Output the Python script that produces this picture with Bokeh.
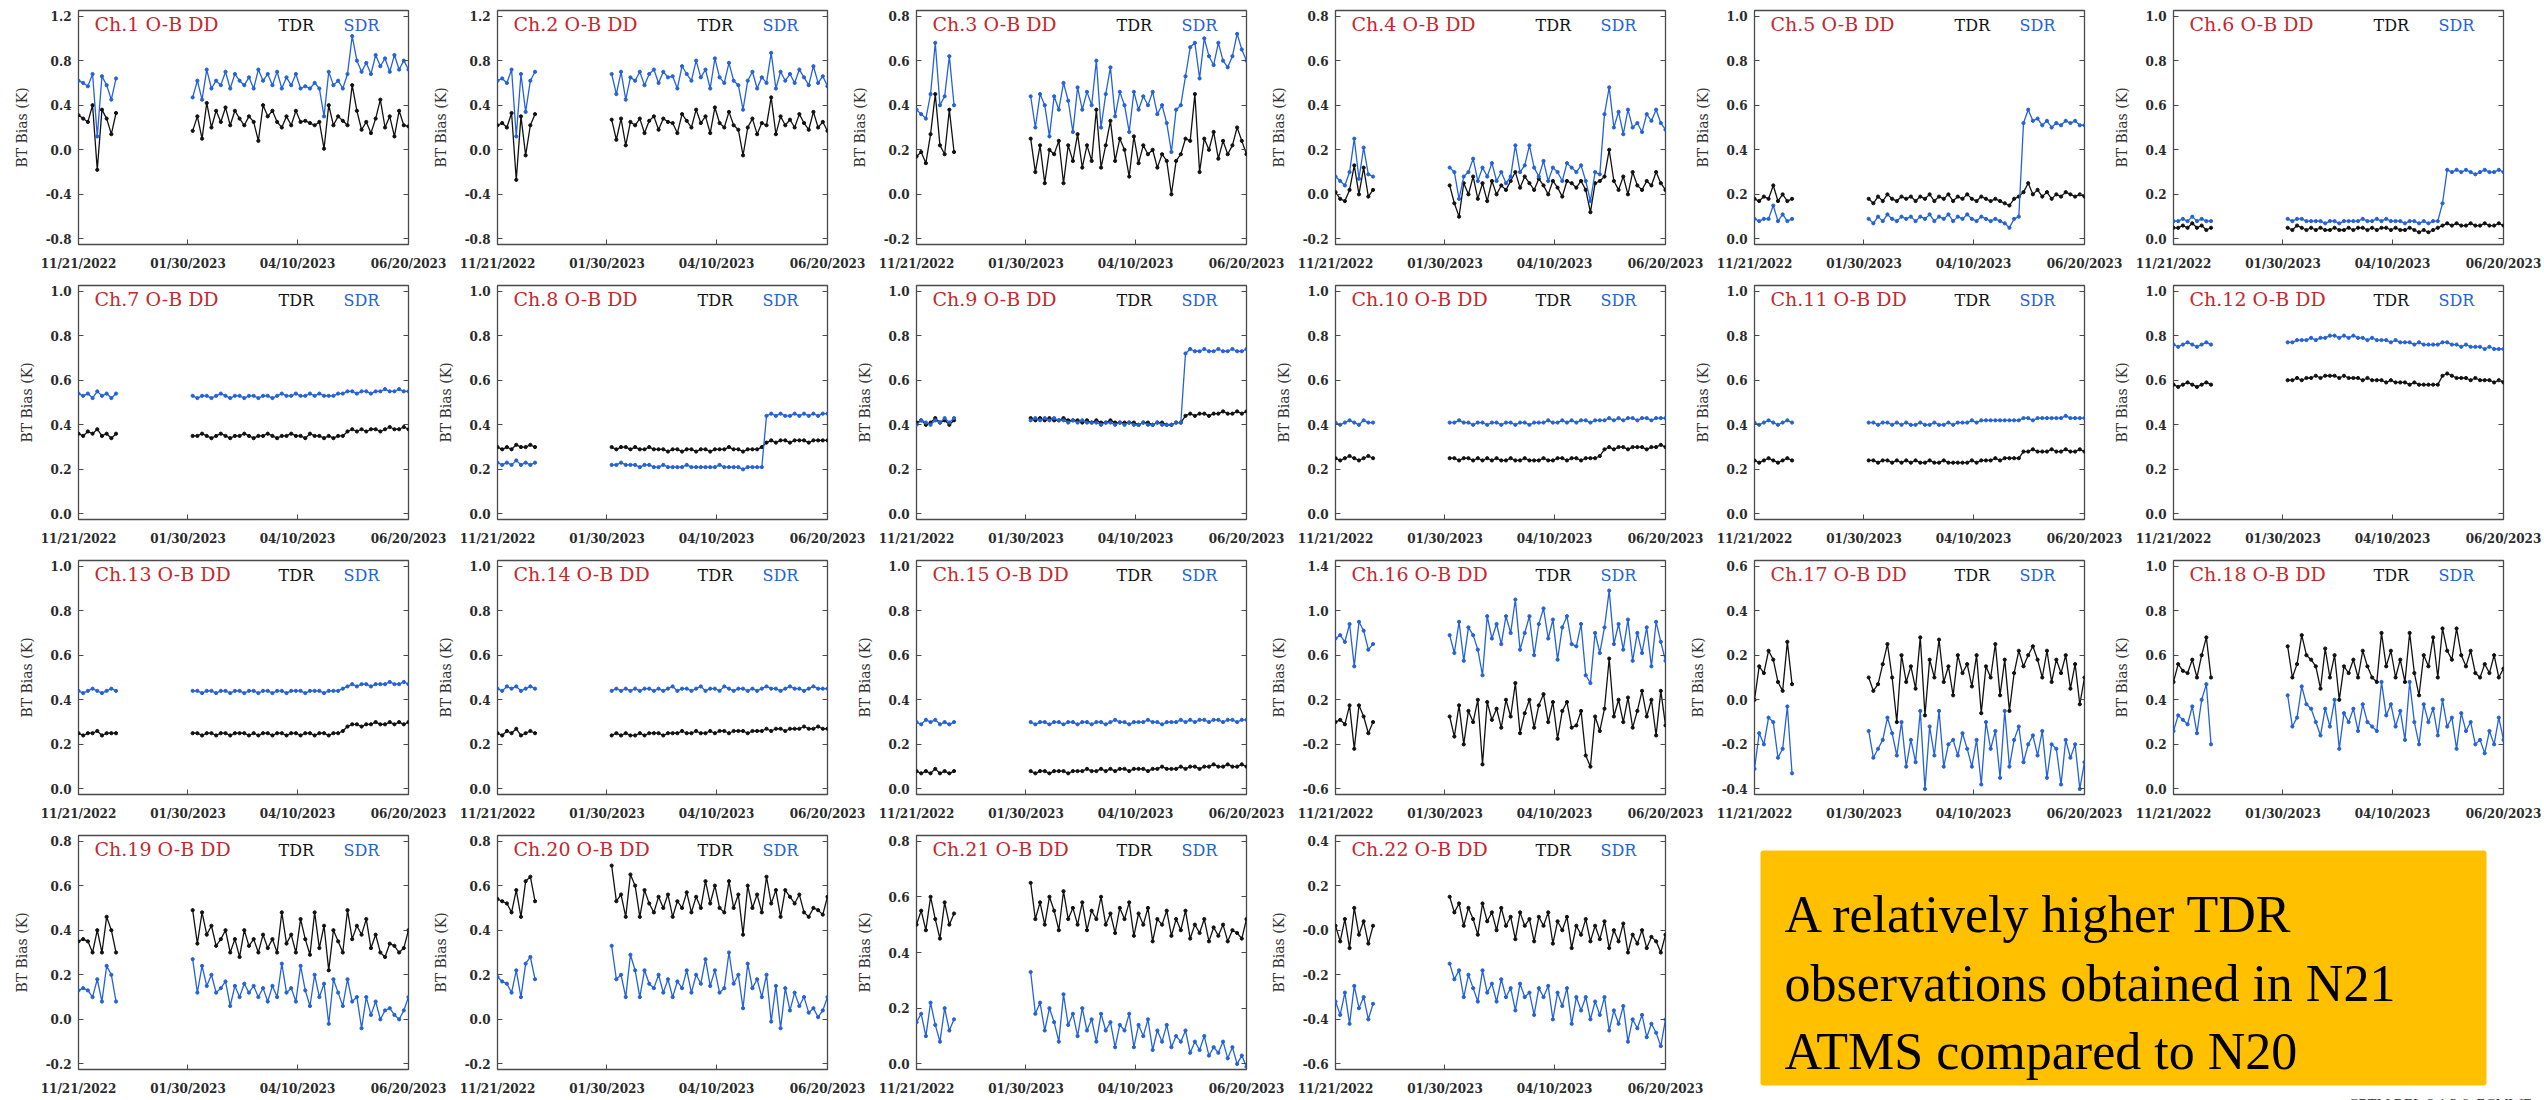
import numpy as np
import pandas as pd
from bokeh.plotting import figure
from bokeh.layouts import row, column
from bokeh.models import (Range1d, FixedTicker, CustomJSTickFormatter, LinearAxis,
                          Label, BoxAnnotation)
from bokeh.embed import file_html
from bokeh.resources import INLINE

# ---------------- data ----------------
seg1_dates = pd.date_range("2022-11-21", "2022-12-15", freq="3D")   # 9 points
seg2_dates = pd.date_range("2023-02-02", "2023-06-20", freq="3D")   # 47 points
x_tick_dates = ["2022-11-21", "2023-01-30", "2023-04-10", "2023-06-20"]
x_start, x_end = "2022-11-21", "2023-06-20"

# each series: 9 values (segment 1) + 47 values (segment 2)
ch1_tdr = [0.31, 0.28, 0.25, 0.40, -0.18, 0.36, 0.28, 0.14, 0.33,
           0.17, 0.30, 0.10, 0.42, 0.20, 0.35, 0.25, 0.38, 0.22, 0.35,
           0.28, 0.22, 0.30, 0.25, 0.08, 0.40, 0.30, 0.35, 0.25, 0.20,
           0.30, 0.22, 0.35, 0.25, 0.26, 0.24, 0.22, 0.25, 0.01, 0.40,
           0.22, 0.30, 0.26, 0.22, 0.58, 0.35, 0.18, 0.25, 0.15, 0.28,
           0.45, 0.20, 0.30, 0.12, 0.35, 0.22, 0.21]
ch1_sdr = [0.62, 0.60, 0.57, 0.68, 0.12, 0.66, 0.58, 0.45, 0.64,
           0.47, 0.62, 0.45, 0.72, 0.55, 0.62, 0.58, 0.70, 0.55, 0.68,
           0.62, 0.58, 0.65, 0.55, 0.72, 0.62, 0.68, 0.58, 0.70, 0.55,
           0.65, 0.58, 0.68, 0.55, 0.57, 0.55, 0.60, 0.55, 0.30, 0.70,
           0.58, 0.62, 0.55, 0.68, 1.02, 0.80, 0.70, 0.78, 0.68, 0.85,
           0.75, 0.82, 0.70, 0.85, 0.72, 0.80, 0.72]
ch2_tdr = [0.22, 0.24, 0.20, 0.33, -0.27, 0.30, -0.05, 0.22, 0.32,
           0.27, 0.09, 0.28, 0.04, 0.25, 0.22, 0.28, 0.15, 0.26, 0.30,
           0.18, 0.28, 0.25, 0.24, 0.15, 0.32, 0.26, 0.20, 0.36, 0.24,
           0.30, 0.15, 0.38, 0.24, 0.20, 0.34, 0.22, 0.18, -0.05, 0.20,
           0.28, 0.14, 0.24, 0.22, 0.47, 0.14, 0.30, 0.22, 0.27, 0.20,
           0.32, 0.24, 0.18, 0.34, 0.20, 0.25, 0.17]
ch2_sdr = [0.62, 0.64, 0.60, 0.72, 0.12, 0.68, 0.34, 0.62, 0.70,
           0.68, 0.50, 0.70, 0.45, 0.65, 0.62, 0.70, 0.58, 0.68, 0.72,
           0.60, 0.70, 0.65, 0.66, 0.55, 0.75, 0.68, 0.62, 0.80, 0.65,
           0.72, 0.55, 0.82, 0.65, 0.60, 0.78, 0.62, 0.58, 0.36, 0.62,
           0.70, 0.55, 0.65, 0.60, 0.87, 0.55, 0.70, 0.62, 0.68, 0.60,
           0.72, 0.65, 0.58, 0.75, 0.60, 0.66, 0.57]
ch3_tdr = [0.17, 0.19, 0.14, 0.27, 0.45, 0.22, 0.18, 0.38, 0.19,
           0.25, 0.10, 0.22, 0.05, 0.20, 0.18, 0.24, 0.05, 0.22, 0.15,
           0.27, 0.12, 0.22, 0.15, 0.38, 0.12, 0.22, 0.33, 0.15, 0.25,
           0.20, 0.08, 0.26, 0.14, 0.22, 0.18, 0.20, 0.12, 0.18, 0.15,
           0.00, 0.15, 0.18, 0.25, 0.24, 0.45, 0.10, 0.25, 0.20, 0.28,
           0.16, 0.24, 0.18, 0.22, 0.30, 0.24, 0.18]
ch3_sdr = [0.38, 0.36, 0.34, 0.45, 0.68, 0.40, 0.44, 0.62, 0.40,
           0.44, 0.30, 0.45, 0.40, 0.26, 0.44, 0.38, 0.50, 0.42, 0.28,
           0.48, 0.38, 0.46, 0.40, 0.60, 0.30, 0.45, 0.57, 0.35, 0.46,
           0.40, 0.28, 0.46, 0.38, 0.44, 0.40, 0.46, 0.36, 0.40, 0.32,
           0.19, 0.38, 0.40, 0.53, 0.66, 0.68, 0.52, 0.70, 0.62, 0.58,
           0.68, 0.60, 0.57, 0.62, 0.72, 0.65, 0.60]
ch4_tdr = [0.01, -0.02, -0.03, 0.02, 0.13, 0.00, 0.12, -0.01, 0.02,
           0.04, -0.04, -0.10, 0.05, 0.00, 0.08, -0.02, 0.05, -0.03, 0.06,
           0.00, 0.04, 0.02, 0.06, 0.10, 0.03, 0.08, 0.05, 0.02, 0.07,
           0.04, 0.00, 0.06, 0.03, -0.01, 0.06, 0.05, 0.03, 0.06, 0.02,
           -0.08, 0.05, 0.06, 0.08, 0.20, 0.06, 0.02, 0.08, 0.00, 0.10,
           0.04, 0.02, 0.06, 0.04, 0.10, 0.05, 0.02]
ch4_sdr = [0.08, 0.06, 0.04, 0.10, 0.25, 0.07, 0.21, 0.09, 0.08,
           0.12, 0.10, -0.02, 0.08, 0.10, 0.16, 0.06, 0.12, 0.08, 0.14,
           0.06, 0.10, 0.05, 0.08, 0.22, 0.10, 0.13, 0.22, 0.12, 0.08,
           0.15, 0.06, 0.12, 0.10, 0.06, 0.14, 0.12, 0.10, 0.13, 0.06,
           -0.03, 0.10, 0.09, 0.36, 0.48, 0.30, 0.37, 0.27, 0.38, 0.30,
           0.32, 0.28, 0.36, 0.33, 0.38, 0.32, 0.29]
ch5_tdr = [0.18, 0.17, 0.19, 0.18, 0.24, 0.17, 0.20, 0.17, 0.18,
           0.18, 0.16, 0.19, 0.17, 0.20, 0.18, 0.17, 0.19, 0.18, 0.19,
           0.17, 0.19, 0.18, 0.20, 0.17, 0.19, 0.18, 0.20, 0.17, 0.19,
           0.18, 0.20, 0.18, 0.17, 0.19, 0.18, 0.17, 0.18, 0.17, 0.16,
           0.15, 0.18, 0.19, 0.21, 0.25, 0.20, 0.22, 0.19, 0.21, 0.18,
           0.20, 0.19, 0.21, 0.20, 0.19, 0.20, 0.19]
ch5_sdr = [0.09, 0.08, 0.09, 0.09, 0.15, 0.08, 0.11, 0.08, 0.09,
           0.09, 0.07, 0.10, 0.08, 0.11, 0.09, 0.08, 0.10, 0.09, 0.10,
           0.08, 0.10, 0.09, 0.11, 0.08, 0.10, 0.09, 0.11, 0.08, 0.10,
           0.09, 0.11, 0.09, 0.08, 0.10, 0.09, 0.08, 0.09, 0.08, 0.07,
           0.05, 0.09, 0.10, 0.52, 0.58, 0.53, 0.54, 0.51, 0.53, 0.50,
           0.52, 0.51, 0.53, 0.52, 0.53, 0.51, 0.51]
ch6_tdr = [0.05, 0.05, 0.06, 0.05, 0.07, 0.05, 0.06, 0.04, 0.05,
           0.05, 0.04, 0.06, 0.05, 0.04, 0.05, 0.04, 0.05, 0.04, 0.04,
           0.05, 0.04, 0.04, 0.05, 0.04, 0.05, 0.05, 0.04, 0.05, 0.04,
           0.05, 0.05, 0.04, 0.05, 0.04, 0.04, 0.05, 0.04, 0.03, 0.04,
           0.03, 0.04, 0.05, 0.06, 0.07, 0.06, 0.07, 0.06, 0.06, 0.07,
           0.06, 0.06, 0.07, 0.06, 0.06, 0.07, 0.06]
ch6_sdr = [0.08, 0.08, 0.09, 0.08, 0.10, 0.08, 0.09, 0.08, 0.08,
           0.09, 0.08, 0.09, 0.09, 0.08, 0.08, 0.08, 0.08, 0.07, 0.08,
           0.08, 0.07, 0.08, 0.08, 0.08, 0.08, 0.09, 0.08, 0.08, 0.09,
           0.08, 0.09, 0.08, 0.08, 0.08, 0.07, 0.08, 0.08, 0.07, 0.08,
           0.07, 0.08, 0.08, 0.16, 0.31, 0.30, 0.31, 0.30, 0.31, 0.30,
           0.29, 0.30, 0.31, 0.30, 0.30, 0.31, 0.30]
ch7_tdr = [0.36, 0.35, 0.37, 0.36, 0.38, 0.35, 0.36, 0.34, 0.36,
           0.35, 0.35, 0.36, 0.35, 0.34, 0.35, 0.36, 0.35, 0.34, 0.35,
           0.35, 0.36, 0.35, 0.34, 0.35, 0.35, 0.36, 0.35, 0.34, 0.35,
           0.35, 0.36, 0.35, 0.35, 0.34, 0.36, 0.35, 0.35, 0.34, 0.35,
           0.34, 0.35, 0.35, 0.37, 0.38, 0.37, 0.38, 0.37, 0.38, 0.38,
           0.37, 0.38, 0.39, 0.38, 0.38, 0.39, 0.38]
ch7_sdr = [0.54, 0.53, 0.54, 0.52, 0.55, 0.53, 0.54, 0.52, 0.54,
           0.53, 0.52, 0.53, 0.53, 0.52, 0.53, 0.54, 0.53, 0.52, 0.53,
           0.53, 0.52, 0.53, 0.53, 0.52, 0.53, 0.53, 0.52, 0.53, 0.54,
           0.53, 0.53, 0.54, 0.53, 0.53, 0.54, 0.53, 0.54, 0.53, 0.53,
           0.53, 0.54, 0.54, 0.55, 0.55, 0.54, 0.55, 0.55, 0.54, 0.55,
           0.55, 0.56, 0.55, 0.55, 0.56, 0.55, 0.55]
ch8_tdr = [0.30, 0.29, 0.30, 0.29, 0.31, 0.30, 0.30, 0.31, 0.30,
           0.30, 0.29, 0.30, 0.30, 0.29, 0.30, 0.29, 0.29, 0.30, 0.29,
           0.29, 0.29, 0.28, 0.29, 0.29, 0.28, 0.29, 0.29, 0.28, 0.29,
           0.29, 0.28, 0.29, 0.29, 0.29, 0.30, 0.29, 0.29, 0.28, 0.29,
           0.29, 0.29, 0.30, 0.32, 0.33, 0.32, 0.33, 0.33, 0.32, 0.33,
           0.33, 0.33, 0.32, 0.33, 0.33, 0.33, 0.33]
ch8_sdr = [0.23, 0.22, 0.23, 0.22, 0.24, 0.22, 0.23, 0.22, 0.23,
           0.22, 0.22, 0.23, 0.22, 0.22, 0.22, 0.21, 0.22, 0.22, 0.21,
           0.21, 0.22, 0.21, 0.21, 0.21, 0.21, 0.22, 0.21, 0.21, 0.21,
           0.21, 0.21, 0.21, 0.22, 0.21, 0.21, 0.21, 0.21, 0.20, 0.21,
           0.21, 0.21, 0.21, 0.44, 0.45, 0.44, 0.45, 0.44, 0.44, 0.45,
           0.44, 0.45, 0.44, 0.45, 0.44, 0.45, 0.45]
ch9_tdr = [0.41, 0.42, 0.40, 0.41, 0.43, 0.41, 0.42, 0.40, 0.42,
           0.43, 0.42, 0.43, 0.42, 0.43, 0.42, 0.42, 0.43, 0.42, 0.42,
           0.42, 0.41, 0.42, 0.41, 0.42, 0.41, 0.41, 0.42, 0.41, 0.41,
           0.41, 0.41, 0.41, 0.40, 0.41, 0.41, 0.40, 0.41, 0.41, 0.40,
           0.40, 0.41, 0.41, 0.44, 0.45, 0.44, 0.45, 0.45, 0.44, 0.45,
           0.45, 0.46, 0.45, 0.45, 0.46, 0.45, 0.46]
ch9_sdr = [0.40, 0.42, 0.41, 0.40, 0.42, 0.41, 0.43, 0.41, 0.43,
           0.42, 0.43, 0.42, 0.43, 0.42, 0.43, 0.42, 0.42, 0.41, 0.42,
           0.41, 0.42, 0.41, 0.41, 0.41, 0.40, 0.41, 0.41, 0.40, 0.41,
           0.40, 0.41, 0.40, 0.40, 0.41, 0.40, 0.40, 0.41, 0.40, 0.40,
           0.40, 0.41, 0.41, 0.72, 0.74, 0.73, 0.73, 0.74, 0.73, 0.73,
           0.74, 0.73, 0.73, 0.74, 0.73, 0.73, 0.74]
ch10_tdr = [0.25, 0.24, 0.25, 0.26, 0.25, 0.24, 0.25, 0.26, 0.25,
            0.25, 0.25, 0.24, 0.25, 0.25, 0.24, 0.25, 0.24, 0.25, 0.24,
            0.25, 0.24, 0.24, 0.25, 0.24, 0.24, 0.25, 0.24, 0.24, 0.24,
            0.25, 0.24, 0.24, 0.25, 0.25, 0.24, 0.25, 0.25, 0.24, 0.25,
            0.25, 0.25, 0.26, 0.29, 0.30, 0.29, 0.30, 0.30, 0.29, 0.30,
            0.30, 0.30, 0.29, 0.30, 0.30, 0.31, 0.30]
ch10_sdr = [0.41, 0.40, 0.41, 0.42, 0.41, 0.40, 0.42, 0.41, 0.41,
            0.41, 0.41, 0.42, 0.41, 0.41, 0.40, 0.41, 0.41, 0.40, 0.41,
            0.41, 0.40, 0.41, 0.41, 0.40, 0.41, 0.41, 0.40, 0.41, 0.41,
            0.41, 0.42, 0.41, 0.41, 0.42, 0.41, 0.42, 0.41, 0.42, 0.42,
            0.41, 0.42, 0.42, 0.42, 0.43, 0.42, 0.43, 0.42, 0.43, 0.43,
            0.42, 0.43, 0.43, 0.42, 0.43, 0.43, 0.43]
ch11_tdr = [0.24, 0.23, 0.24, 0.25, 0.24, 0.23, 0.24, 0.25, 0.24,
            0.24, 0.24, 0.23, 0.24, 0.24, 0.23, 0.24, 0.23, 0.24, 0.23,
            0.24, 0.23, 0.23, 0.24, 0.23, 0.23, 0.24, 0.23, 0.23, 0.23,
            0.23, 0.23, 0.24, 0.23, 0.24, 0.24, 0.24, 0.25, 0.24, 0.25,
            0.25, 0.25, 0.25, 0.28, 0.28, 0.29, 0.28, 0.28, 0.28, 0.29,
            0.28, 0.28, 0.29, 0.28, 0.28, 0.29, 0.28]
ch11_sdr = [0.41, 0.40, 0.41, 0.42, 0.41, 0.40, 0.41, 0.42, 0.41,
            0.41, 0.41, 0.40, 0.41, 0.41, 0.40, 0.41, 0.40, 0.41, 0.40,
            0.40, 0.41, 0.40, 0.40, 0.41, 0.40, 0.40, 0.41, 0.40, 0.41,
            0.41, 0.41, 0.42, 0.41, 0.42, 0.42, 0.42, 0.42, 0.42, 0.42,
            0.42, 0.42, 0.42, 0.43, 0.43, 0.42, 0.43, 0.43, 0.43, 0.43,
            0.43, 0.43, 0.44, 0.43, 0.43, 0.43, 0.43]
ch12_tdr = [0.58, 0.57, 0.58, 0.59, 0.58, 0.57, 0.58, 0.59, 0.58,
            0.60, 0.60, 0.61, 0.60, 0.61, 0.61, 0.62, 0.61, 0.62, 0.62,
            0.62, 0.61, 0.62, 0.61, 0.61, 0.61, 0.60, 0.61, 0.60, 0.60,
            0.60, 0.59, 0.60, 0.59, 0.59, 0.59, 0.58, 0.59, 0.58, 0.58,
            0.58, 0.58, 0.58, 0.62, 0.63, 0.62, 0.61, 0.61, 0.61, 0.60,
            0.61, 0.60, 0.60, 0.60, 0.59, 0.60, 0.59]
ch12_sdr = [0.76, 0.75, 0.76, 0.77, 0.76, 0.75, 0.76, 0.77, 0.76,
            0.77, 0.77, 0.78, 0.78, 0.78, 0.79, 0.78, 0.79, 0.79, 0.80,
            0.80, 0.79, 0.80, 0.79, 0.80, 0.79, 0.79, 0.78, 0.79, 0.78,
            0.78, 0.78, 0.77, 0.78, 0.77, 0.77, 0.77, 0.76, 0.77, 0.76,
            0.76, 0.76, 0.76, 0.77, 0.77, 0.76, 0.76, 0.75, 0.76, 0.75,
            0.75, 0.75, 0.74, 0.75, 0.74, 0.74, 0.74]
ch13_tdr = [0.25, 0.24, 0.25, 0.25, 0.26, 0.24, 0.25, 0.25, 0.25,
            0.25, 0.25, 0.24, 0.25, 0.25, 0.24, 0.25, 0.25, 0.24, 0.25,
            0.25, 0.25, 0.24, 0.25, 0.24, 0.25, 0.25, 0.24, 0.25, 0.25,
            0.24, 0.25, 0.25, 0.24, 0.25, 0.25, 0.24, 0.25, 0.25, 0.24,
            0.25, 0.25, 0.26, 0.28, 0.29, 0.29, 0.28, 0.29, 0.29, 0.30,
            0.29, 0.29, 0.30, 0.29, 0.30, 0.29, 0.30]
ch13_sdr = [0.44, 0.43, 0.44, 0.45, 0.44, 0.43, 0.44, 0.45, 0.44,
            0.44, 0.44, 0.43, 0.44, 0.44, 0.43, 0.44, 0.44, 0.43, 0.44,
            0.44, 0.43, 0.44, 0.44, 0.43, 0.44, 0.44, 0.43, 0.44, 0.44,
            0.43, 0.44, 0.44, 0.44, 0.43, 0.44, 0.44, 0.44, 0.43, 0.44,
            0.44, 0.44, 0.45, 0.46, 0.47, 0.46, 0.47, 0.47, 0.46, 0.47,
            0.47, 0.47, 0.48, 0.47, 0.47, 0.48, 0.47]
ch14_tdr = [0.25, 0.24, 0.26, 0.25, 0.27, 0.24, 0.25, 0.26, 0.25,
            0.24, 0.25, 0.24, 0.25, 0.24, 0.24, 0.25, 0.24, 0.25, 0.25,
            0.25, 0.24, 0.25, 0.25, 0.25, 0.26, 0.25, 0.25, 0.26, 0.25,
            0.25, 0.26, 0.25, 0.26, 0.26, 0.25, 0.26, 0.26, 0.26, 0.25,
            0.26, 0.26, 0.26, 0.27, 0.26, 0.27, 0.27, 0.26, 0.27, 0.27,
            0.27, 0.28, 0.27, 0.27, 0.28, 0.27, 0.27]
ch14_sdr = [0.45, 0.44, 0.46, 0.45, 0.46, 0.44, 0.45, 0.46, 0.45,
            0.44, 0.45, 0.44, 0.45, 0.44, 0.45, 0.44, 0.45, 0.45, 0.44,
            0.45, 0.44, 0.45, 0.46, 0.44, 0.45, 0.45, 0.44, 0.45, 0.46,
            0.44, 0.45, 0.45, 0.44, 0.46, 0.45, 0.44, 0.45, 0.45, 0.44,
            0.45, 0.44, 0.45, 0.46, 0.45, 0.45, 0.44, 0.45, 0.46, 0.45,
            0.45, 0.44, 0.45, 0.46, 0.45, 0.45, 0.45]
ch15_tdr = [0.08, 0.07, 0.08, 0.07, 0.09, 0.07, 0.08, 0.07, 0.08,
            0.08, 0.07, 0.08, 0.08, 0.07, 0.08, 0.08, 0.08, 0.07, 0.08,
            0.08, 0.08, 0.09, 0.08, 0.08, 0.09, 0.08, 0.09, 0.08, 0.09,
            0.09, 0.08, 0.09, 0.09, 0.09, 0.08, 0.09, 0.09, 0.10, 0.09,
            0.09, 0.09, 0.10, 0.09, 0.10, 0.10, 0.09, 0.10, 0.10, 0.11,
            0.10, 0.10, 0.11, 0.10, 0.10, 0.11, 0.10]
ch15_sdr = [0.30, 0.29, 0.31, 0.30, 0.31, 0.29, 0.30, 0.29, 0.30,
            0.30, 0.29, 0.30, 0.30, 0.29, 0.30, 0.30, 0.29, 0.30, 0.30,
            0.29, 0.30, 0.30, 0.29, 0.30, 0.30, 0.29, 0.30, 0.31, 0.30,
            0.30, 0.29, 0.30, 0.30, 0.30, 0.31, 0.30, 0.30, 0.29, 0.30,
            0.30, 0.30, 0.31, 0.30, 0.31, 0.30, 0.31, 0.31, 0.30, 0.31,
            0.31, 0.30, 0.31, 0.31, 0.30, 0.31, 0.31]
ch16_tdr = [0.00, 0.02, -0.02, 0.15, -0.24, 0.15, 0.05, -0.10, 0.00,
            0.05, -0.13, 0.15, -0.20, 0.10, 0.00, 0.20, -0.38, 0.18, 0.02,
            0.12, -0.05, 0.20, 0.05, 0.35, -0.10, 0.08, 0.20, -0.05, 0.15,
            0.25, 0.00, 0.18, -0.15, 0.10, 0.18, -0.05, -0.03, 0.10, -0.30,
            -0.40, 0.05, -0.08, 0.12, 0.57, 0.05, 0.20, 0.00, 0.22, -0.05,
            0.10, 0.28, 0.05, 0.20, -0.12, 0.28, -0.03]
ch16_sdr = [0.75, 0.78, 0.72, 0.88, 0.50, 0.90, 0.82, 0.65, 0.70,
            0.78, 0.62, 0.90, 0.55, 0.85, 0.78, 0.65, 0.42, 0.95, 0.75,
            0.88, 0.70, 0.95, 0.80, 1.10, 0.65, 0.80, 0.95, 0.60, 0.88,
            1.02, 0.75, 0.92, 0.56, 0.85, 0.95, 0.70, 0.68, 0.88, 0.42,
            0.35, 0.80, 0.62, 0.85, 1.18, 0.70, 0.88, 0.65, 0.92, 0.55,
            0.80, 0.62, 0.85, 0.50, 0.90, 0.72, 0.55]
ch17_tdr = [0.00, 0.15, 0.12, 0.22, 0.18, 0.08, 0.04, 0.26, 0.07,
            0.10, 0.04, 0.07, 0.16, 0.25, 0.10, -0.10, 0.20, 0.08, 0.15,
            0.05, 0.28, -0.07, 0.18, 0.10, 0.27, 0.08, 0.15, 0.02, 0.20,
            0.12, 0.16, 0.06, 0.20, -0.06, 0.15, 0.10, 0.25, 0.02, 0.18,
            -0.05, 0.12, 0.22, 0.15, 0.20, 0.24, 0.18, 0.10, 0.22, 0.08,
            0.18, 0.12, 0.20, 0.05, 0.16, -0.02, 0.10]
ch17_sdr = [-0.31, -0.15, -0.20, -0.08, -0.10, -0.26, -0.22, -0.03, -0.33,
            -0.14, -0.26, -0.22, -0.18, -0.08, -0.15, -0.25, -0.10, -0.30, -0.18,
            -0.28, -0.05, -0.40, -0.12, -0.25, -0.05, -0.30, -0.20, -0.18, -0.25,
            -0.15, -0.22, -0.30, -0.18, -0.38, -0.10, -0.22, -0.14, -0.35, -0.05,
            -0.30, -0.18, -0.12, -0.28, -0.20, -0.16, -0.25, -0.14, -0.35, -0.20,
            -0.22, -0.38, -0.18, -0.26, -0.20, -0.40, -0.28]
ch18_tdr = [0.48, 0.56, 0.53, 0.52, 0.58, 0.50, 0.60, 0.68, 0.50,
            0.64, 0.50, 0.56, 0.69, 0.60, 0.58, 0.55, 0.45, 0.63, 0.50,
            0.60, 0.40, 0.55, 0.52, 0.58, 0.50, 0.62, 0.55, 0.50, 0.48,
            0.70, 0.55, 0.62, 0.50, 0.58, 0.48, 0.70, 0.52, 0.42, 0.60,
            0.55, 0.68, 0.50, 0.72, 0.62, 0.58, 0.72, 0.60, 0.55, 0.62,
            0.52, 0.50, 0.56, 0.52, 0.60, 0.50, 0.54]
ch18_sdr = [0.26, 0.33, 0.31, 0.29, 0.37, 0.25, 0.40, 0.47, 0.20,
            0.42, 0.28, 0.32, 0.46, 0.38, 0.36, 0.30, 0.24, 0.36, 0.28,
            0.40, 0.18, 0.34, 0.30, 0.36, 0.26, 0.38, 0.30, 0.28, 0.26,
            0.48, 0.33, 0.38, 0.28, 0.35, 0.22, 0.48, 0.30, 0.20, 0.38,
            0.30, 0.36, 0.24, 0.40, 0.28, 0.32, 0.18, 0.34, 0.26, 0.30,
            0.20, 0.22, 0.16, 0.26, 0.20, 0.32, 0.22]
ch19_tdr = [0.35, 0.36, 0.35, 0.30, 0.40, 0.30, 0.46, 0.40, 0.30,
            0.49, 0.34, 0.48, 0.38, 0.42, 0.33, 0.36, 0.40, 0.30, 0.36,
            0.28, 0.40, 0.33, 0.36, 0.30, 0.38, 0.32, 0.36, 0.30, 0.48,
            0.34, 0.38, 0.30, 0.45, 0.36, 0.29, 0.48, 0.32, 0.42, 0.22,
            0.40, 0.35, 0.30, 0.49, 0.36, 0.42, 0.38, 0.45, 0.32, 0.38,
            0.30, 0.28, 0.34, 0.33, 0.30, 0.32, 0.40]
ch19_sdr = [0.13, 0.14, 0.13, 0.10, 0.18, 0.08, 0.24, 0.20, 0.08,
            0.27, 0.12, 0.24, 0.15, 0.20, 0.12, 0.14, 0.17, 0.06, 0.15,
            0.10, 0.16, 0.12, 0.15, 0.10, 0.14, 0.08, 0.15, 0.10, 0.25,
            0.12, 0.14, 0.08, 0.24, 0.13, 0.06, 0.20, 0.10, 0.16, -0.02,
            0.18, 0.12, 0.06, 0.18, 0.08, 0.10, -0.04, 0.10, 0.02, 0.08,
            0.00, 0.04, 0.05, 0.02, 0.00, 0.04, 0.10]
ch20_tdr = [0.54, 0.53, 0.52, 0.48, 0.58, 0.46, 0.62, 0.64, 0.53,
            0.69, 0.53, 0.56, 0.46, 0.65, 0.60, 0.46, 0.58, 0.52, 0.48,
            0.55, 0.50, 0.56, 0.46, 0.53, 0.50, 0.57, 0.48, 0.55, 0.50,
            0.62, 0.52, 0.60, 0.50, 0.48, 0.62, 0.50, 0.56, 0.38, 0.60,
            0.50, 0.56, 0.48, 0.64, 0.52, 0.58, 0.46, 0.58, 0.55, 0.52,
            0.56, 0.48, 0.46, 0.50, 0.49, 0.47, 0.55]
ch20_sdr = [0.19, 0.17, 0.16, 0.12, 0.22, 0.10, 0.25, 0.28, 0.18,
            0.33, 0.18, 0.20, 0.10, 0.29, 0.22, 0.10, 0.22, 0.16, 0.14,
            0.20, 0.12, 0.18, 0.10, 0.17, 0.14, 0.22, 0.12, 0.20, 0.16,
            0.27, 0.15, 0.22, 0.12, 0.14, 0.30, 0.16, 0.20, 0.05, 0.25,
            0.14, 0.18, 0.10, 0.20, -0.01, 0.15, -0.04, 0.14, 0.04, 0.12,
            0.06, 0.10, 0.03, 0.05, 0.01, 0.04, 0.10]
ch21_tdr = [0.50, 0.55, 0.48, 0.60, 0.52, 0.45, 0.58, 0.50, 0.54,
            0.65, 0.52, 0.58, 0.50, 0.60, 0.55, 0.48, 0.62, 0.52, 0.56,
            0.50, 0.58, 0.48, 0.55, 0.52, 0.60, 0.50, 0.54, 0.47, 0.56,
            0.52, 0.58, 0.46, 0.54, 0.50, 0.56, 0.44, 0.52, 0.50, 0.55,
            0.46, 0.52, 0.48, 0.55, 0.45, 0.50, 0.47, 0.52, 0.44, 0.49,
            0.46, 0.50, 0.44, 0.48, 0.47, 0.45, 0.52]
ch21_sdr = [0.15, 0.18, 0.10, 0.22, 0.14, 0.08, 0.20, 0.12, 0.16,
            0.33, 0.18, 0.22, 0.12, 0.20, 0.15, 0.08, 0.25, 0.14, 0.18,
            0.10, 0.20, 0.12, 0.16, 0.08, 0.18, 0.12, 0.15, 0.06, 0.14,
            0.12, 0.18, 0.06, 0.14, 0.10, 0.16, 0.05, 0.12, 0.08, 0.14,
            0.06, 0.10, 0.08, 0.12, 0.04, 0.08, 0.05, 0.10, 0.03, 0.06,
            0.04, 0.08, 0.02, 0.06, 0.00, 0.03, -0.01]
ch22_tdr = [0.02, -0.05, 0.05, -0.08, 0.10, -0.02, 0.04, -0.06, 0.02,
            0.15, 0.08, 0.12, 0.02, 0.10, 0.05, -0.02, 0.12, 0.04, 0.08,
            0.00, 0.10, 0.02, 0.06, -0.04, 0.08, 0.02, 0.05, -0.05, 0.06,
            0.02, 0.08, -0.06, 0.04, 0.00, 0.06, -0.08, 0.02, -0.02, 0.05,
            -0.05, 0.02, -0.04, 0.04, -0.08, 0.00, -0.05, 0.03, -0.10, -0.02,
            -0.06, 0.00, -0.08, -0.03, -0.05, -0.10, -0.02]
ch22_sdr = [-0.32, -0.38, -0.28, -0.42, -0.25, -0.35, -0.30, -0.40, -0.33,
            -0.15, -0.22, -0.18, -0.30, -0.20, -0.26, -0.32, -0.18, -0.28, -0.24,
            -0.32, -0.22, -0.30, -0.26, -0.36, -0.24, -0.30, -0.28, -0.38, -0.26,
            -0.30, -0.25, -0.40, -0.28, -0.34, -0.26, -0.42, -0.30, -0.36, -0.30,
            -0.40, -0.32, -0.38, -0.30, -0.45, -0.36, -0.42, -0.34, -0.50, -0.40,
            -0.44, -0.38, -0.48, -0.42, -0.46, -0.52, -0.40]

yt_a = [-0.8, -0.4, 0.0, 0.4, 0.8, 1.2]
yt_b = [-0.2, 0.0, 0.2, 0.4, 0.6, 0.8]
yt_c = [0.0, 0.2, 0.4, 0.6, 0.8, 1.0]
yt_16 = [-0.6, -0.2, 0.2, 0.6, 1.0, 1.4]
yt_17 = [-0.4, -0.2, 0.0, 0.2, 0.4, 0.6]
yt_21 = [0.0, 0.2, 0.4, 0.6, 0.8]
yt_22 = [-0.6, -0.4, -0.2, 0.0, 0.2, 0.4]
zero_label_22 = "-0.0"

channels = [
    (1, ch1_tdr, ch1_sdr, yt_a), (2, ch2_tdr, ch2_sdr, yt_a),
    (3, ch3_tdr, ch3_sdr, yt_b), (4, ch4_tdr, ch4_sdr, yt_b),
    (5, ch5_tdr, ch5_sdr, yt_c), (6, ch6_tdr, ch6_sdr, yt_c),
    (7, ch7_tdr, ch7_sdr, yt_c), (8, ch8_tdr, ch8_sdr, yt_c),
    (9, ch9_tdr, ch9_sdr, yt_c), (10, ch10_tdr, ch10_sdr, yt_c),
    (11, ch11_tdr, ch11_sdr, yt_c), (12, ch12_tdr, ch12_sdr, yt_c),
    (13, ch13_tdr, ch13_sdr, yt_c), (14, ch14_tdr, ch14_sdr, yt_c),
    (15, ch15_tdr, ch15_sdr, yt_c), (16, ch16_tdr, ch16_sdr, yt_16),
    (17, ch17_tdr, ch17_sdr, yt_17), (18, ch18_tdr, ch18_sdr, yt_c),
    (19, ch19_tdr, ch19_sdr, yt_b), (20, ch20_tdr, ch20_sdr, yt_b),
    (21, ch21_tdr, ch21_sdr, yt_21), (22, ch22_tdr, ch22_sdr, yt_22),
]

note_lines = ["A relatively higher TDR", "observations obtained in N21", "ATMS compared to N20"]
footer = "CRTM REL-2.1.3 & ECMWF"

# ---------------- helpers ----------------
def to_ms(d):
    return np.asarray(pd.DatetimeIndex(d).values.astype("datetime64[ms]").astype("int64"), dtype=float)

n1 = len(seg1_dates)
xs = np.concatenate([to_ms(seg1_dates), [np.nan], to_ms(seg2_dates)])
x_ticks = list(to_ms(x_tick_dates))
x0, x1 = to_ms([x_start, x_end])

def with_gap(vals):
    assert len(vals) == len(seg1_dates) + len(seg2_dates), len(vals)
    return np.concatenate([vals[:n1], [np.nan], vals[n1:]])

RED = "#C4282C"
BLUE = "#2462D6"
BLACK = "#111111"
SERIF = "DejaVu Serif"
CELL_W, CELL_H = 419, 275
FRAME_L, FRAME_W = 78, 330
B_TOP, B_BOT = 10, 31

x_fmt = CustomJSTickFormatter(code="""
const d = new Date(tick);
const m = String(d.getUTCMonth() + 1).padStart(2, '0');
const dd = String(d.getUTCDate()).padStart(2, '0');
return m + '/' + dd + '/' + d.getUTCFullYear();
""")

def make_panel(ch, tdr, sdr, yt, last_col):
    w = CELL_W + 30 if last_col else CELL_W + 40
    lo, hi = yt[0], yt[-1]
    pad = 0.025 * (hi - lo)
    p = figure(width=w, height=CELL_H, x_range=Range1d(x0, x1),
               y_range=Range1d(lo - pad, hi + pad),
               output_backend="svg", toolbar_location=None,
               min_border_left=FRAME_L, min_border_right=w - FRAME_L - FRAME_W,
               min_border_top=B_TOP, min_border_bottom=B_BOT,
               border_fill_color=None, background_fill_color="white",
               outline_line_color="#4a4a4a", outline_line_width=1.3,
               margin=(0, 0, 0, 0) if last_col else (0, -40, 0, 0))
    p.grid.visible = False
    yfmt_code = "return tick.toFixed(1);"
    if ch == 22:
        yfmt_code = "return Math.abs(tick) < 1e-9 ? '%s' : tick.toFixed(1);" % zero_label_22
    for ax in p.yaxis:
        ax.ticker = FixedTicker(ticks=yt)
        ax.formatter = CustomJSTickFormatter(code=yfmt_code)
        ax.axis_label = "BT Bias (K)"
        ax.axis_label_text_font = SERIF
        ax.axis_label_text_font_style = "normal"
        ax.axis_label_text_font_size = "14px"
        ax.axis_label_text_color = "#333333"
        ax.axis_label_standoff = 13
        ax.major_label_standoff = 7
    for ax in p.xaxis:
        ax.ticker = FixedTicker(ticks=x_ticks)
        ax.formatter = x_fmt
        ax.major_label_standoff = 12
    for ax in p.axis:
        ax.axis_line_color = None
        ax.major_tick_in = 5
        ax.major_tick_out = 0
        ax.major_tick_line_color = "#4a4a4a"
        ax.minor_tick_line_color = None
        ax.major_label_text_font = SERIF
        ax.major_label_text_font_style = "bold"
        ax.major_label_text_font_size = "12px"
        ax.major_label_text_color = "#2a2a2a"
    # inward ticks on the right edge, without labels
    rax = LinearAxis(ticker=FixedTicker(ticks=yt), major_label_text_font_size="1px",
                     major_label_text_color=None, major_label_text_alpha=0,
                     major_tick_in=5, major_tick_out=0, axis_line_color=None,
                     major_tick_line_color="#4a4a4a", minor_tick_line_color=None,
                     major_label_standoff=0)
    p.add_layout(rax, "right")

    yt_v, ys_v = with_gap(tdr), with_gap(sdr)
    p.line(xs, yt_v, line_color=BLACK, line_width=1.3)
    p.scatter(xs, yt_v, size=3.2, color=BLACK)
    p.line(xs, ys_v, line_color=BLUE, line_width=1.3)
    p.scatter(xs, ys_v, size=3.2, color=BLUE)

    fh = CELL_H - B_TOP - B_BOT
    p.add_layout(Label(x=16, y=fh - 24, x_units="screen", y_units="screen",
                       text="Ch.%d O-B DD" % ch, text_font=SERIF, text_font_size="19px",
                       text_color=RED))
    p.add_layout(Label(x=200, y=fh - 24, x_units="screen", y_units="screen",
                       text="TDR", text_font=SERIF, text_font_size="16px", text_color=BLACK))
    p.add_layout(Label(x=265, y=fh - 24, x_units="screen", y_units="screen",
                       text="SDR", text_font=SERIF, text_font_size="16px", text_color=BLUE))
    return p

panels = []
for i, (ch, tdr, sdr, yt) in enumerate(channels):
    panels.append(make_panel(ch, tdr, sdr, yt, i % 6 == 5))

# note box figure: frame = whole canvas, 1 data unit = 1 px from the cell's bottom-left
tw = 2544 - 4 * CELL_W
tf = figure(width=tw, height=CELL_H, x_range=Range1d(0, tw), y_range=Range1d(0, CELL_H),
            output_backend="svg", toolbar_location=None, min_border=0,
            min_border_left=0, min_border_right=0, min_border_top=0, min_border_bottom=0,
            x_axis_location=None, y_axis_location=None, outline_line_color=None,
            border_fill_color=None, background_fill_color=None)
tf.grid.visible = False
tf.add_layout(BoxAnnotation(left=84, right=810, bottom=15, top=250, level="annotation",
                            fill_color="#FFC000", fill_alpha=1.0, line_color=None,
                            border_radius=3))
for txt, yb in zip(note_lines, [186, 117, 49]):
    tf.add_layout(Label(x=108, y=yb, text=txt, text_font="Liberation Serif",
                        text_font_size="52px", text_color="#000000",
                        text_baseline="alphabetic"))
tf.add_layout(Label(x=672, y=5, text=footer, text_font="Liberation Serif",
                    text_font_size="15px", text_color="#333333", text_baseline="top"))

layout = column(
    row(*panels[0:6]),
    row(*panels[6:12]),
    row(*panels[12:18]),
    row(*panels[18:22], column(tf)),
)

open("out.html", "w").write(file_html(layout, INLINE))
